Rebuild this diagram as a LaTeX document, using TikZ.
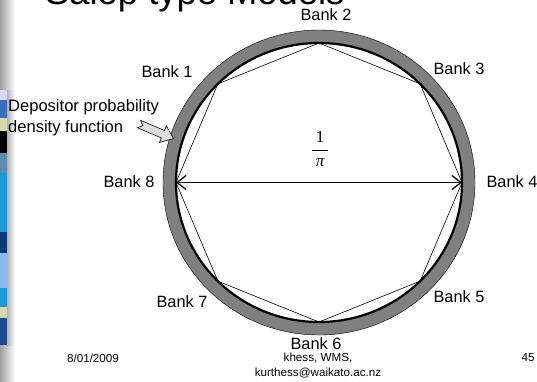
\documentclass[tikz,border=0pt]{standalone}
\usepackage{fontspec}
\setmainfont{Liberation Sans}
\newfontfamily\serifface{Liberation Serif}
\usetikzlibrary{arrows.meta}
\definecolor{ringgrey}{HTML}{808080}
\definecolor{bandblue}{HTML}{3A6FC0}
\definecolor{bandyellow}{HTML}{D8D8A8}
\definecolor{bandsteel}{HTML}{5A8FB0}
\definecolor{bandcyan}{HTML}{1A9AD8}
\definecolor{bandnavy}{HTML}{0A3A78}
\definecolor{bandlight}{HTML}{88BBEE}
\definecolor{banddark}{HTML}{1A4A90}
\tikzset{
  bank/.style={font=\fontsize{16.4}{19}\selectfont, inner sep=0pt},
  foot/.style={font=\fontsize{11.7}{15}\selectfont, inner sep=0pt, align=center},
  fracpart/.style={font=\serifface\fontsize{17}{20}\selectfont, inner sep=0pt},
  octo/.style={line width=0.6bp},
  diam/.style={line width=1.3bp, {Straight Barb[length=9bp,width=14bp]}-{Straight Barb[length=9bp,width=14bp]}},
  blockarrow/.style={fill=gray!25, draw=black, line width=0.6bp}
}
\begin{document}
\begin{tikzpicture}[x=1bp,y=-1bp]
\useasboundingbox (0,0) rectangle (537,381);
\begin{scope}
\clip (0,0) rectangle (537,381);
% left slide strip
\shade[left color=gray!75, right color=white] (0,0) rectangle (15,381);
\fill[white!85!blue] (0,90) rectangle (7,100);
\fill[bandblue] (0,100) rectangle (7,118);
\fill[bandyellow] (0,118) rectangle (7,131);
\fill[black] (0,131) rectangle (7,153);
\fill[bandsteel] (0,153) rectangle (7,173);
\fill[bandcyan] (0,173) rectangle (7,232);
\fill[bandnavy] (0,232) rectangle (7,253);
\fill[bandlight] (0,253) rectangle (7,288);
\fill[bandcyan] (0,288) rectangle (7,307);
\fill[bandyellow] (0,307) rectangle (7,318);
\fill[banddark] (0,318) rectangle (7,345);
\shade[left color=gray!60, right color=white] (7,90) rectangle (15,345);
% clipped title
\node[font=\fontsize{36.5}{40}\selectfont, anchor=base west, inner sep=0pt] (title) at (45,4) {Salop type Models};
\end{scope}
% ring
\fill[ringgrey, even odd rule] (319,182.5) ellipse [x radius=156, y radius=152.5]
  (319,182.5) ellipse [x radius=143, y radius=139.5];
\draw[line width=0.4bp] (319,182.5) ellipse [x radius=156, y radius=152.5];
\draw[line width=2.2bp] (319,182.5) ellipse [x radius=143, y radius=139.5];
% octagon vertices
\foreach \n/\a in {1/135,2/90,3/45,4/0,5/-45,6/-90,7/-135,8/180}
  \coordinate (v\n) at ({319+143*cos(\a)},{182.5-139.5*sin(\a)});
\draw[octo] (v1)--(v2)--(v3)--(v4)--(v5)--(v6)--(v7)--(v8)--cycle;
\draw[diam] (v8) -- (v4);
% fraction 1/pi
\node[fracpart] (num) at (320,137) {1};
\node[fracpart] (den) at (320,163) {\itshape π};
\coordinate (barl) at (312,150);
\coordinate (barr) at (328,150);
\draw[line width=0.7bp] (barl) -- (barr);
% labels
\node[bank] (l1) at (167,72) {Bank 1};
\node[bank] (l2) at (326,15) {Bank 2};
\node[bank] (l3) at (459,69) {Bank 3};
\node[bank] (l4) at (512,182) {Bank 4};
\node[bank] (l5) at (459,297) {Bank 5};
\node[bank] (l6) at (316,344) {Bank 6};
\node[bank] (l7) at (182,302) {Bank 7};
\node[bank] (l8) at (129,182) {Bank 8};
\node[font=\fontsize{16.6}{21}\selectfont, inner sep=0pt, align=left, anchor=west] (dep) at (8,117.5) {Depositor probability\\density function};
% block arrow
\coordinate (a1) at (140.6,120.3);
\coordinate (a2) at (164.5,130.5);
\coordinate (a3) at (166.4,125.9);
\coordinate (a4) at (173.5,138.5);
\coordinate (a5) at (159.4,142.5);
\coordinate (a6) at (161.3,137.9);
\coordinate (a7) at (137.4,127.7);
\coordinate (a8) at (142.7,125.6);
\draw[blockarrow] (a1)--(a2)--(a3)--(a4)--(a5)--(a6)--(a7)--(a8)--cycle;
% footer
\node[foot] (date) at (93,358) {8/01/2009};
\node[foot] (auth1) at (318,358) {khess, WMS,};
\node[foot] (auth2) at (318,373) {kurthess@waikato.ac.nz};
\node[foot] (page) at (528,358) {45};
\end{tikzpicture}
\end{document}
